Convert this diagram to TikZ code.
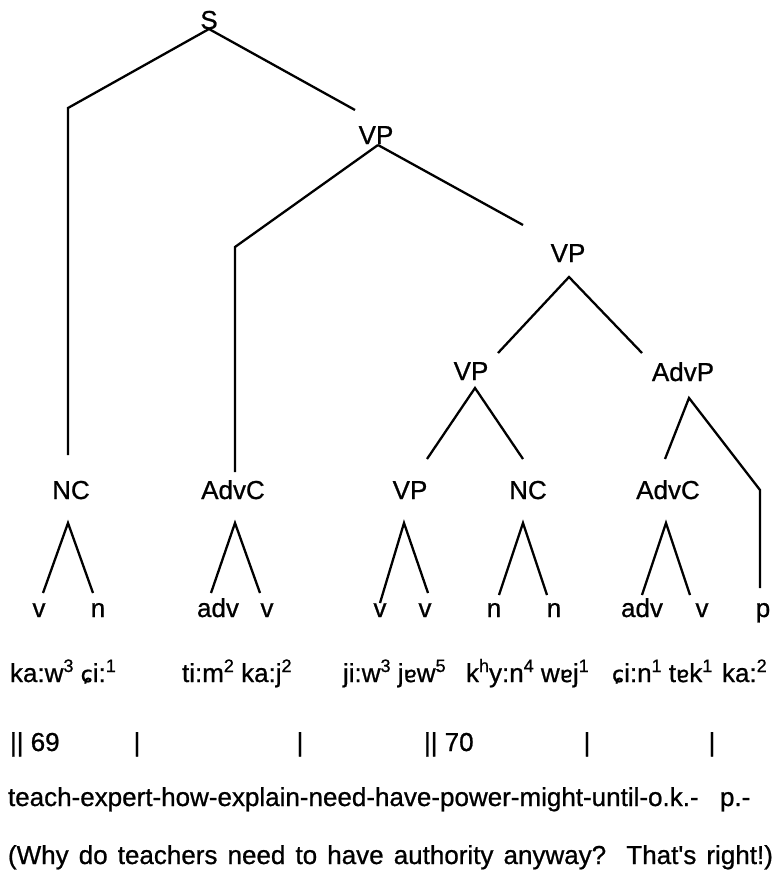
\documentclass[tikz,border=0pt]{standalone}
\usepackage{fontspec}
\setmainfont{Liberation Sans}[Ligatures=TeXOff,FakeBold=0.8]
\newfontfamily\ipafont[Scale=0.85,FakeBold=0.8]{DejaVu Sans}
\newcommand\tn[1]{\raisebox{10pt}{\fontsize{18}{18}\selectfont #1}}
\newcommand\ipa[1]{{\ipafont #1}}
\begin{document}
\begin{tikzpicture}[x=1pt,y=-1pt,
  every node/.style={inner sep=0pt,outer sep=0pt,font=\fontsize{26}{31}\selectfont},
  cat/.style={anchor=base,text height=19pt,text depth=0pt},
  leaf/.style={anchor=base,text height=14pt,text depth=0pt},
  txt/.style={anchor=base west},
  bar/.style={anchor=base},
  edge/.style={line width=2.3pt}]
\useasboundingbox (0,0) rectangle (783,880);

% categories
\node[cat] (S)     at (209,29)  {S};
\node[cat] (VP1)   at (376,144) {VP};
\node[cat] (VP2)   at (568,262) {VP};
\node[cat] (VP3)   at (471,380) {VP};
\node[cat] (AdvP)  at (683,381) {AdvP};
\node[cat] (NC1)   at (71,499)  {NC};
\node[cat] (AdvC1) at (233,499) {AdvC};
\node[cat] (VP4)   at (410,499) {VP};
\node[cat] (NC2)   at (528,499) {NC};
\node[cat] (AdvC2) at (668,499) {AdvC};

% leaves
\node[leaf] (l1)  at (39,617)  {v};
\node[leaf] (l2)  at (98,617)  {n};
\node[leaf] (l3)  at (218,617) {adv};
\node[leaf] (l4)  at (267,617) {v};
\node[leaf] (l5)  at (380,617) {v};
\node[leaf] (l6)  at (425,617) {v};
\node[leaf] (l7)  at (494,617) {n};
\node[leaf] (l8)  at (554,617) {n};
\node[leaf] (l9)  at (642,617) {adv};
\node[leaf] (l10) at (702,617) {v};
\node[leaf] (l11) at (763,617) {p};

% bend points
\coordinate (kS) at (68,108);
\coordinate (kVP) at (235,247);
\coordinate (kAdvP) at (760,490);

% connectors
\draw[edge] (S.south) -- (kS) -- ([xshift=-3pt,yshift=25pt]NC1.north);
\draw[edge] (S.south) -- ([xshift=-21pt,yshift=15pt]VP1.north);
\draw[edge] ([xshift=2pt,yshift=-1pt]VP1.south) -- (kVP) -- ([xshift=2pt,yshift=8pt]AdvC1.north);
\draw[edge] ([xshift=2pt,yshift=-1pt]VP1.south) -- ([xshift=-45pt,yshift=18pt]VP2.north);
\draw[edge] ([xshift=-41pt,yshift=9pt]AdvP.north) -- ([xshift=1pt,yshift=-15pt]VP2.south) -- ([xshift=27pt,yshift=8pt]VP3.north);
\draw[edge] ([xshift=17pt,yshift=21pt]VP4.north) -- ([xshift=4pt,yshift=-8pt]VP3.south) -- ([xshift=-5pt,yshift=21pt]NC2.north);
\draw[edge] ([xshift=-3pt,yshift=21pt]AdvC2.north) -- ([xshift=6pt,yshift=-17pt]AdvP.south) -- (kAdvP) -- ([xshift=-3pt,yshift=15pt]l11.north);
\draw[edge] ([xshift=4pt,yshift=10pt]l1.north) -- ([xshift=-3pt,yshift=-24pt]NC1.south) -- ([xshift=-5pt,yshift=10pt]l2.north);
\draw[edge] ([xshift=-7pt,yshift=10pt]l3.north) -- ([xshift=2pt,yshift=-24pt]AdvC1.south) -- ([xshift=-7pt,yshift=10pt]l4.north);
\draw[edge] (l5.north) -- ([xshift=-6pt,yshift=-24pt]VP4.south) -- ([xshift=3pt,yshift=10pt]l6.north);
\draw[edge] ([xshift=5pt,yshift=8pt]l7.north) -- ([xshift=-5pt,yshift=-24pt]NC2.south) -- ([xshift=-7pt,yshift=8pt]l8.north);
\draw[edge] ([xshift=0pt,yshift=8pt]l9.north) -- ([xshift=-2pt,yshift=-24pt]AdvC2.south) -- ([xshift=-12pt,yshift=8pt]l10.north);

% transliteration row
\node[txt] (t1) at (10,682)  {ka:w\tn{3} \ipa{ɕ}i:\tn{1}};
\node[txt] (t2) at (182,682) {ti:m\tn{2} ka:j\tn{2}};
\node[txt] (t3) at (343,682) {ji:w\tn{3} j\ipa{ɐ}w\tn{5}};
\node[txt] (t4) at (466,682) {k\tn{h}y:n\tn{4} w\ipa{ɐ}j\tn{1}};
\node[txt] (t5) at (612,682) {\ipa{ɕ}i:n\tn{1} t\ipa{ɐ}k\tn{1}};
\node[txt] (t6) at (722,682) {ka:\tn{2}};

% bars row
\node[txt] (b1) at (10,751)  {|| 69};
\node[bar] (b2) at (137,751) {|};
\node[bar] (b3) at (300,751) {|};
\node[txt] (b4) at (424,751) {|| 70};
\node[bar] (b5) at (587,751) {|};
\node[bar] (b6) at (712,751) {|};

% gloss and translation
\node[txt] (g1) at (8,806)   {teach-expert-how-explain-need-have-power-might-until-o.k.-};
\node[txt] (g2) at (720,806) {p.-};
\node[txt] (tr) at (8,864)   {\makebox[765pt][s]{(Why do teachers need to have authority anyway?\ \ That's right!)}};
\end{tikzpicture}
\end{document}
